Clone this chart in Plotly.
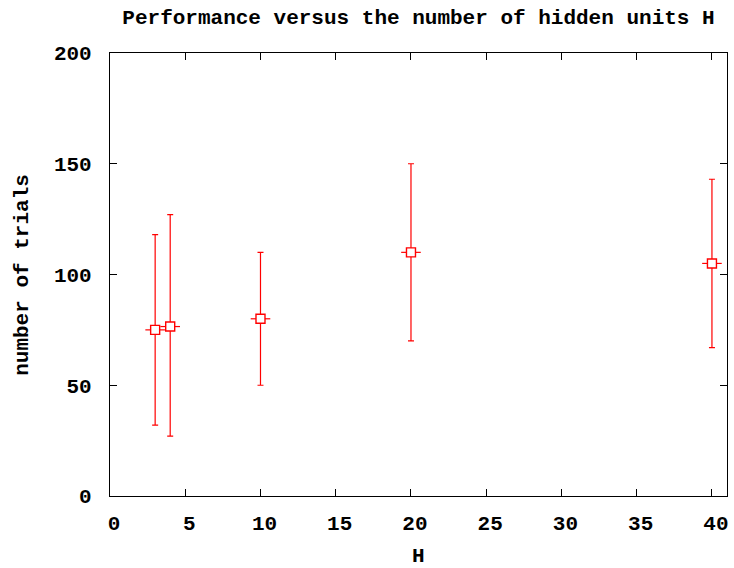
import plotly.graph_objects as go

H = [3, 4, 10, 20, 40]
trials_mean = [75, 76.5, 80, 110, 105]
trials_low = [32, 27, 50, 70, 67]
trials_high = [118, 127, 110, 150, 143]

x_ticks = [0, 5, 10, 15, 20, 25, 30, 35, 40]
y_ticks = [0, 50, 100, 150, 200]

err_plus = [h - m for h, m in zip(trials_high, trials_mean)]
err_minus = [m - l for m, l in zip(trials_mean, trials_low)]

RED = "#ff0000"
FONT = dict(family="Liberation Mono", size=21, color="black", weight="bold")

fig = go.Figure()
# small side ticks of the point symbol
fig.add_trace(go.Scatter(
    x=H, y=trials_mean, mode="markers",
    marker=dict(symbol="line-ew", size=14, line=dict(color=RED, width=1.2)),
    hoverinfo="skip", showlegend=False,
))
fig.add_trace(go.Scatter(
    x=H, y=trials_mean, mode="markers",
    error_y=dict(type="data", symmetric=False, array=err_plus, arrayminus=err_minus,
                 color=RED, thickness=1.2, width=3),
    marker=dict(symbol="square", size=9, color="white", line=dict(color=RED, width=1.4)),
    showlegend=False,
))

axis_common = dict(
    showline=True, linecolor="black", linewidth=1.2, mirror="allticks",
    ticks="inside", ticklen=7, tickwidth=1.2, tickcolor="black",
    showgrid=False, zeroline=False, tickfont=FONT,
)

fig.update_xaxes(range=[0, 41], tickvals=x_ticks, ticktext=[str(v) for v in x_ticks],
                 ticklabelstandoff=8, ticklabelshift=4, **axis_common)
fig.update_yaxes(range=[0, 200], tickvals=y_ticks, ticktext=[str(v) for v in y_ticks],
                 ticklabelstandoff=13, **axis_common)

fig.update_layout(
    width=734, height=568,
    margin=dict(l=110, r=5, t=53, b=72),
    paper_bgcolor="white", plot_bgcolor="white",
    title=dict(text="Performance versus the number of hidden units H", font=FONT,
               x=0.5, xref="paper", y=1 - 17 / 568, yref="container",
               xanchor="center", yanchor="middle"),
    annotations=[
        dict(text="H", xref="paper", yref="paper", x=0.5, y=-60 / 443,
             xanchor="center", yanchor="middle", showarrow=False, font=FONT),
        dict(text="number of trials", xref="paper", yref="paper",
             x=-88 / 619, y=0.5, textangle=-90,
             xanchor="center", yanchor="middle", showarrow=False, font=FONT),
    ],
)

fig.write_html("out.html")
